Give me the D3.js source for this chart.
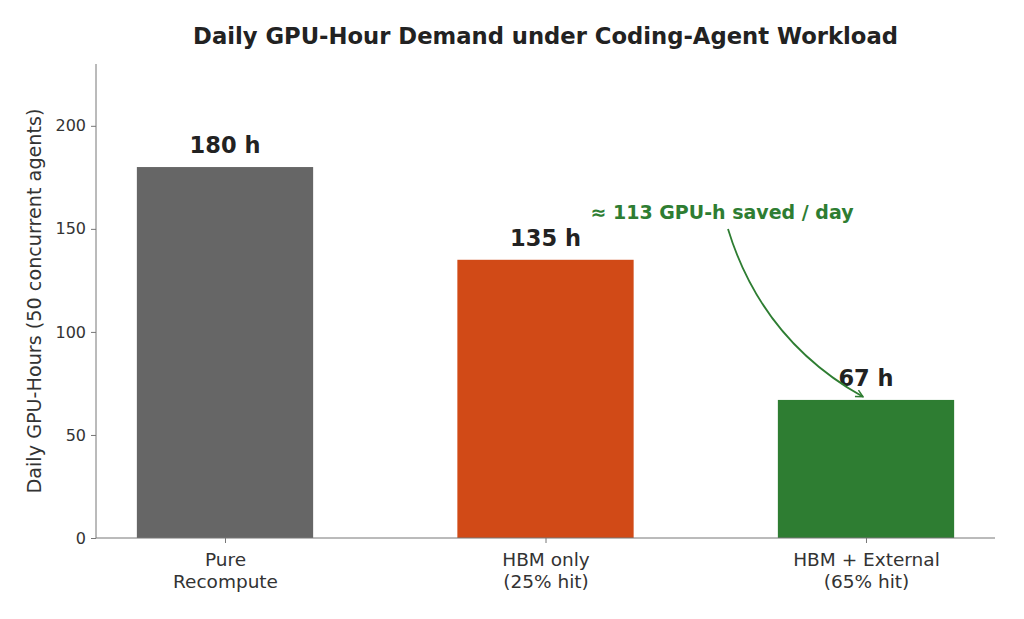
<!DOCTYPE html>
<html>
<head>
<meta charset="utf-8">
<script src="https://cdn.jsdelivr.net/npm/d3@7"></script>
<style>
  body { margin: 0; background: #fff; }
  svg { font-family: "DejaVu Sans", Verdana, sans-serif; }
</style>
</head>
<body>
<svg id="chart" width="1024" height="619"></svg>
<script>
// data
const categories = ["Pure\nRecompute", "HBM only\n(25% hit)", "HBM + External\n(65% hit)"];
const hours = [180, 135, 67];
const barColors = ["#666666", "#d14a17", "#2e7d32"];
const yTicks = [0, 50, 100, 150, 200];
const savedNote = "≈ 113 GPU-h saved / day";

const svg = d3.select("#chart");
const mLeft = 96, mRight = 995, mTop = 64, mBottom = 538;

const x = d3.scaleLinear().domain([-0.4025, 2.4025]).range([mLeft, mRight]);
const y = d3.scaleLinear().domain([0, 230]).range([mBottom, mTop]);
const barW = 0.55;

// title
svg.append("text")
  .attr("x", (mLeft + mRight) / 2).attr("y", 44)
  .attr("text-anchor", "middle")
  .attr("font-size", 22.7).attr("font-weight", "bold")
  .attr("fill", "#222")
  .text("Daily GPU-Hour Demand under Coding-Agent Workload");

// bars
svg.selectAll("rect.bar")
  .data(hours)
  .join("rect")
  .attr("class", "bar")
  .attr("x", (d, i) => x(i - barW / 2))
  .attr("width", (d, i) => x(i + barW / 2) - x(i - barW / 2))
  .attr("y", d => y(d))
  .attr("height", d => y(0) - y(d))
  .attr("fill", (d, i) => barColors[i]);

// value labels
svg.selectAll("text.val")
  .data(hours)
  .join("text")
  .attr("class", "val")
  .attr("x", (d, i) => x(i))
  .attr("y", d => y(d) - 14)
  .attr("text-anchor", "middle")
  .attr("font-size", 22.5).attr("font-weight", "bold")
  .attr("fill", "#222")
  .text(d => d + " h");

// y axis
const yAxis = svg.append("g")
  .attr("transform", `translate(${mLeft},0)`)
  .call(d3.axisLeft(y).tickValues(yTicks).tickSize(5).tickPadding(5));
yAxis.select(".domain").attr("stroke", "#777").attr("d", `M0,${mBottom}V${mTop}`);
yAxis.selectAll(".tick line").attr("stroke", "#777");
yAxis.selectAll(".tick text").attr("font-size", 16).attr("fill", "#333")
  .attr("font-family", "DejaVu Sans");

// x axis
const xAxis = svg.append("g")
  .attr("transform", `translate(0,${mBottom})`)
  .call(d3.axisBottom(x).tickValues([0, 1, 2]).tickSize(5).tickFormat(""));
xAxis.select(".domain").attr("stroke", "#777").attr("d", `M${mLeft},0H${mRight}`);
xAxis.selectAll(".tick line").attr("stroke", "#777");

xAxis.selectAll(".tick").each(function (d) {
  const t = d3.select(this).append("text")
    .attr("text-anchor", "middle")
    .attr("font-size", 18.5).attr("fill", "#333")
    .attr("font-family", "DejaVu Sans");
  categories[d].split("\n").forEach((line, k) => {
    t.append("tspan").attr("x", 0).attr("y", 28 + k * 21.5).text(line);
  });
});

// y label
svg.append("text")
  .attr("transform", `translate(41,${(mTop + mBottom) / 2}) rotate(-90)`)
  .attr("text-anchor", "middle")
  .attr("font-size", 19.2).attr("fill", "#333")
  .text("Daily GPU-Hours (50 concurrent agents)");

// annotation
const green = barColors[2];
svg.append("defs").append("marker")
  .attr("id", "arrow")
  .attr("viewBox", "0 0 10 10").attr("refX", 9).attr("refY", 5)
  .attr("markerWidth", 9).attr("markerHeight", 9)
  .attr("markerUnits", "userSpaceOnUse")
  .attr("orient", "auto")
  .append("path").attr("d", "M1,1L9,5L1,9")
  .attr("fill", "none").attr("stroke", green).attr("stroke-width", 1.6);

svg.append("text")
  .attr("x", 722).attr("y", 219)
  .attr("text-anchor", "middle")
  .attr("font-size", 19).attr("font-weight", "bold")
  .attr("fill", green)
  .text(savedNote);

const p0 = [728, 229];
const p1 = [x(2) - 3, y(hours[2] + 1.5)];
const mx = (p0[0] + p1[0]) / 2, my = (p0[1] + p1[1]) / 2;
const dx = p1[0] - p0[0], dy = p1[1] - p0[1];
const c = [mx - 0.2 * dy, my + 0.2 * dx];
svg.append("path")
  .attr("d", `M${p0[0]},${p0[1]}Q${c[0]},${c[1]} ${p1[0]},${p1[1]}`)
  .attr("fill", "none").attr("stroke", green).attr("stroke-width", 1.8)
  .attr("marker-end", "url(#arrow)");
</script>
</body>
</html>
